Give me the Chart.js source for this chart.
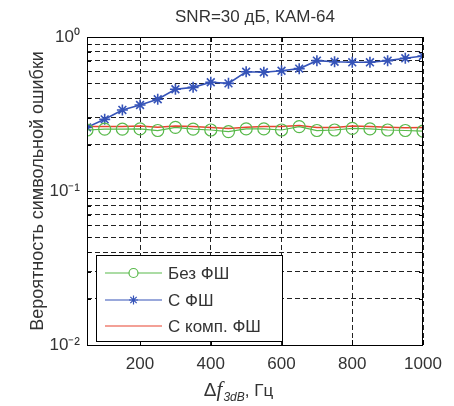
<!DOCTYPE html>
<html>
<head>
<meta charset="utf-8">
<script src="https://cdn.jsdelivr.net/npm/chart.js@4.4.0/dist/chart.umd.min.js"></script>
<style>
  html, body { margin: 0; padding: 0; background: #fff; }
  canvas { display: block; }
</style>
</head>
<body>
<canvas id="berChart" width="454" height="406"></canvas>
<script>
// --- Data ---

const freqs = [50, 100, 150, 200, 250, 300, 350, 400, 450, 500,
               550, 600, 650, 700, 750, 800, 850, 900, 950, 1000];

// Без ФШ
const serNoPN = [0.249, 0.252, 0.252, 0.253, 0.247, 0.259, 0.252, 0.249, 0.243, 0.253,
                 0.253, 0.249, 0.262, 0.247, 0.249, 0.255, 0.253, 0.249, 0.247, 0.245];
// С ФШ
const serPN = [0.259, 0.292, 0.336, 0.362, 0.394, 0.458, 0.471, 0.508, 0.500, 0.595,
               0.590, 0.604, 0.623, 0.702, 0.691, 0.685, 0.685, 0.702, 0.727, 0.753];
// С комп. ФШ
const serComp = [0.262, 0.262, 0.262, 0.264, 0.259, 0.264, 0.262, 0.258, 0.255, 0.259,
                 0.262, 0.262, 0.266, 0.258, 0.258, 0.264, 0.262, 0.259, 0.257, 0.258];

const seriesLabels = ["Без ФШ", "С ФШ", "С комп. ФШ"];
const xTicks = [200, 400, 600, 800, 1000];
const yTicks = [0.01, 0.02, 0.03, 0.04, 0.05, 0.06, 0.07, 0.08, 0.09,
                0.1, 0.2, 0.3, 0.4, 0.5, 0.6, 0.7, 0.8, 0.9, 1];

const FONT = "'Liberation Sans', Arial, sans-serif";
const TEXT = "#333";
const sup = { "0": "⁰", "1": "¹", "2": "²", "-": "⁻" };

function toPoints(values) {
  return values.map((v, i) => ({ x: freqs[i], y: v }));
}

// --- MATLAB-ish decorations: frame, inner ticks, legend, titles ---

const matlabLook = {
  id: "matlabLook",
  afterDatasetsDraw(chart) {
    const { ctx, chartArea: a, scales } = chart;
    ctx.save();

    // frame
    ctx.strokeStyle = "#000";
    ctx.lineWidth = 1;
    ctx.setLineDash([]);
    ctx.strokeRect(a.left + 0.5, a.top + 0.5, a.right - a.left - 1, a.bottom - a.top);

    // inward ticks
    ctx.beginPath();
    scales.x.ticks.forEach((t) => {
      const px = Math.round(scales.x.getPixelForValue(t.value)) + 0.5;
      ctx.moveTo(px, a.bottom); ctx.lineTo(px, a.bottom - 5);
      ctx.moveTo(px, a.top); ctx.lineTo(px, a.top + 5);
    });
    scales.y.ticks.forEach((t) => {
      const py = Math.round(scales.y.getPixelForValue(t.value)) + 0.5;
      const len = Number.isInteger(Math.log10(t.value)) ? 6 : 4;
      ctx.moveTo(a.left, py); ctx.lineTo(a.left + len, py);
      ctx.moveTo(a.right, py); ctx.lineTo(a.right - len, py);
    });
    ctx.stroke();

    // legend box
    const box = { x: 96.5, y: 255.5, w: 186, h: 86 };
    ctx.fillStyle = "#fff";
    ctx.fillRect(box.x, box.y, box.w, box.h);
    ctx.strokeRect(box.x, box.y, box.w, box.h);

    const rows = [273, 300, 326];
    chart.data.datasets.forEach((ds, i) => {
      const y = rows[i];
      ctx.strokeStyle = ds.borderColor;
      ctx.lineWidth = 1.2;
      ctx.beginPath();
      ctx.moveTo(105, y); ctx.lineTo(162, y);
      ctx.stroke();
      if (ds.pointRadius > 0) {
        Chart.helpers.drawPoint(ctx, {
          pointStyle: ds.pointStyle,
          radius: 4.5,
          borderWidth: 1.2,
        }, 133.5, y);
      }
      ctx.fillStyle = TEXT;
      ctx.font = "17px " + FONT;
      ctx.textBaseline = "middle";
      ctx.textAlign = "left";
      ctx.fillText(ds.label, 168, y + 1);
    });

    // chart title
    ctx.fillStyle = TEXT;
    ctx.font = "17px " + FONT;
    ctx.textAlign = "center";
    ctx.textBaseline = "alphabetic";
    ctx.fillText("SNR=30 дБ, КАМ-64", (a.left + a.right) / 2, 22);

    // x axis title: Δf_{3dB}, Гц
    const parts = [
      { t: "Δ", f: "19px " + FONT, dy: 0 },
      { t: "f", f: "italic 21px 'Liberation Serif', serif", dy: 0 },
      { t: "3dB", f: "italic 12px " + FONT, dy: 5 },
      { t: ", Гц", f: "17px " + FONT, dy: 0 },
    ];
    let total = 0;
    parts.forEach((p) => { ctx.font = p.f; p.w = ctx.measureText(p.t).width; total += p.w; });
    let x = 238 - total / 2;
    ctx.textAlign = "left";
    parts.forEach((p) => {
      ctx.font = p.f;
      ctx.fillText(p.t, x, 396 + p.dy);
      x += p.w + (p.t === "f" ? 1 : 0);
    });

    ctx.restore();
  },
};

const ctx = document.getElementById("berChart");

new Chart(ctx, {
  type: "line",
  data: {
    datasets: [
      {
        label: seriesLabels[0],
        data: toPoints(serNoPN),
        borderColor: "#58b94a",
        backgroundColor: "transparent",
        borderWidth: 1.2,
        pointStyle: "circle",
        pointRadius: 6,
        pointBorderWidth: 1.2,
        pointBorderColor: "#58b94a",
        pointBackgroundColor: "transparent",
        tension: 0,
      },
      {
        label: seriesLabels[1],
        data: toPoints(serPN),
        borderColor: "#3553b8",
        backgroundColor: "#3553b8",
        borderWidth: 1.6,
        pointStyle: "star",
        pointRadius: 5.5,
        pointBorderWidth: 1.6,
        pointBorderColor: "#3553b8",
        tension: 0,
      },
      {
        label: seriesLabels[2],
        data: toPoints(serComp),
        borderColor: "#e8432f",
        backgroundColor: "#e8432f",
        borderWidth: 1.5,
        pointRadius: 0,
        tension: 0,
      },
    ],
  },
  options: {
    responsive: false,
    animation: false,
    devicePixelRatio: 1,
    layout: { padding: { top: 37, right: 31, left: 0, bottom: 0 } },
    plugins: {
      legend: { display: false },
      tooltip: { enabled: false },
      title: { display: false },
    },
    scales: {
      x: {
        type: "linear",
        min: 50,
        max: 1000,
        afterBuildTicks: (scale) => {
          scale.ticks = xTicks.map((v) => ({ value: v }));
        },
        afterFit: (scale) => { scale.height = 61; },
        ticks: {
          color: TEXT,
          font: { family: FONT, size: 17 },
          padding: 9,
          maxRotation: 0,
          autoSkip: false,
          callback: (value) => String(value),
        },
        grid: { color: "#222", lineWidth: 1, drawTicks: false },
        border: { display: false, dash: [5, 3] },
      },
      y: {
        type: "logarithmic",
        min: 0.01,
        max: 1,
        afterBuildTicks: (scale) => {
          scale.ticks = yTicks.map((v) => ({ value: v }));
        },
        afterFit: (scale) => { scale.width = 87; },
        ticks: {
          color: TEXT,
          font: { family: FONT, size: 17 },
          padding: 7,
          autoSkip: false,
          callback: (value) => {
            const e = Math.log10(value);
            if (Math.abs(e - Math.round(e)) > 1e-9) return "";
            return "10" + String(Math.round(e)).split("").map((c) => sup[c]).join("");
          },
        },
        title: {
          display: true,
          text: "Вероятность символьной ошибки",
          color: TEXT,
          font: { family: FONT, size: 18, lineHeight: 1.2 },
          padding: { top: 27, bottom: 0 },
        },
        grid: { color: "#222", lineWidth: 1, drawTicks: false },
        border: { display: false, dash: [5, 3] },
      },
    },
  },
  plugins: [matlabLook],
});
</script>
</body>
</html>
